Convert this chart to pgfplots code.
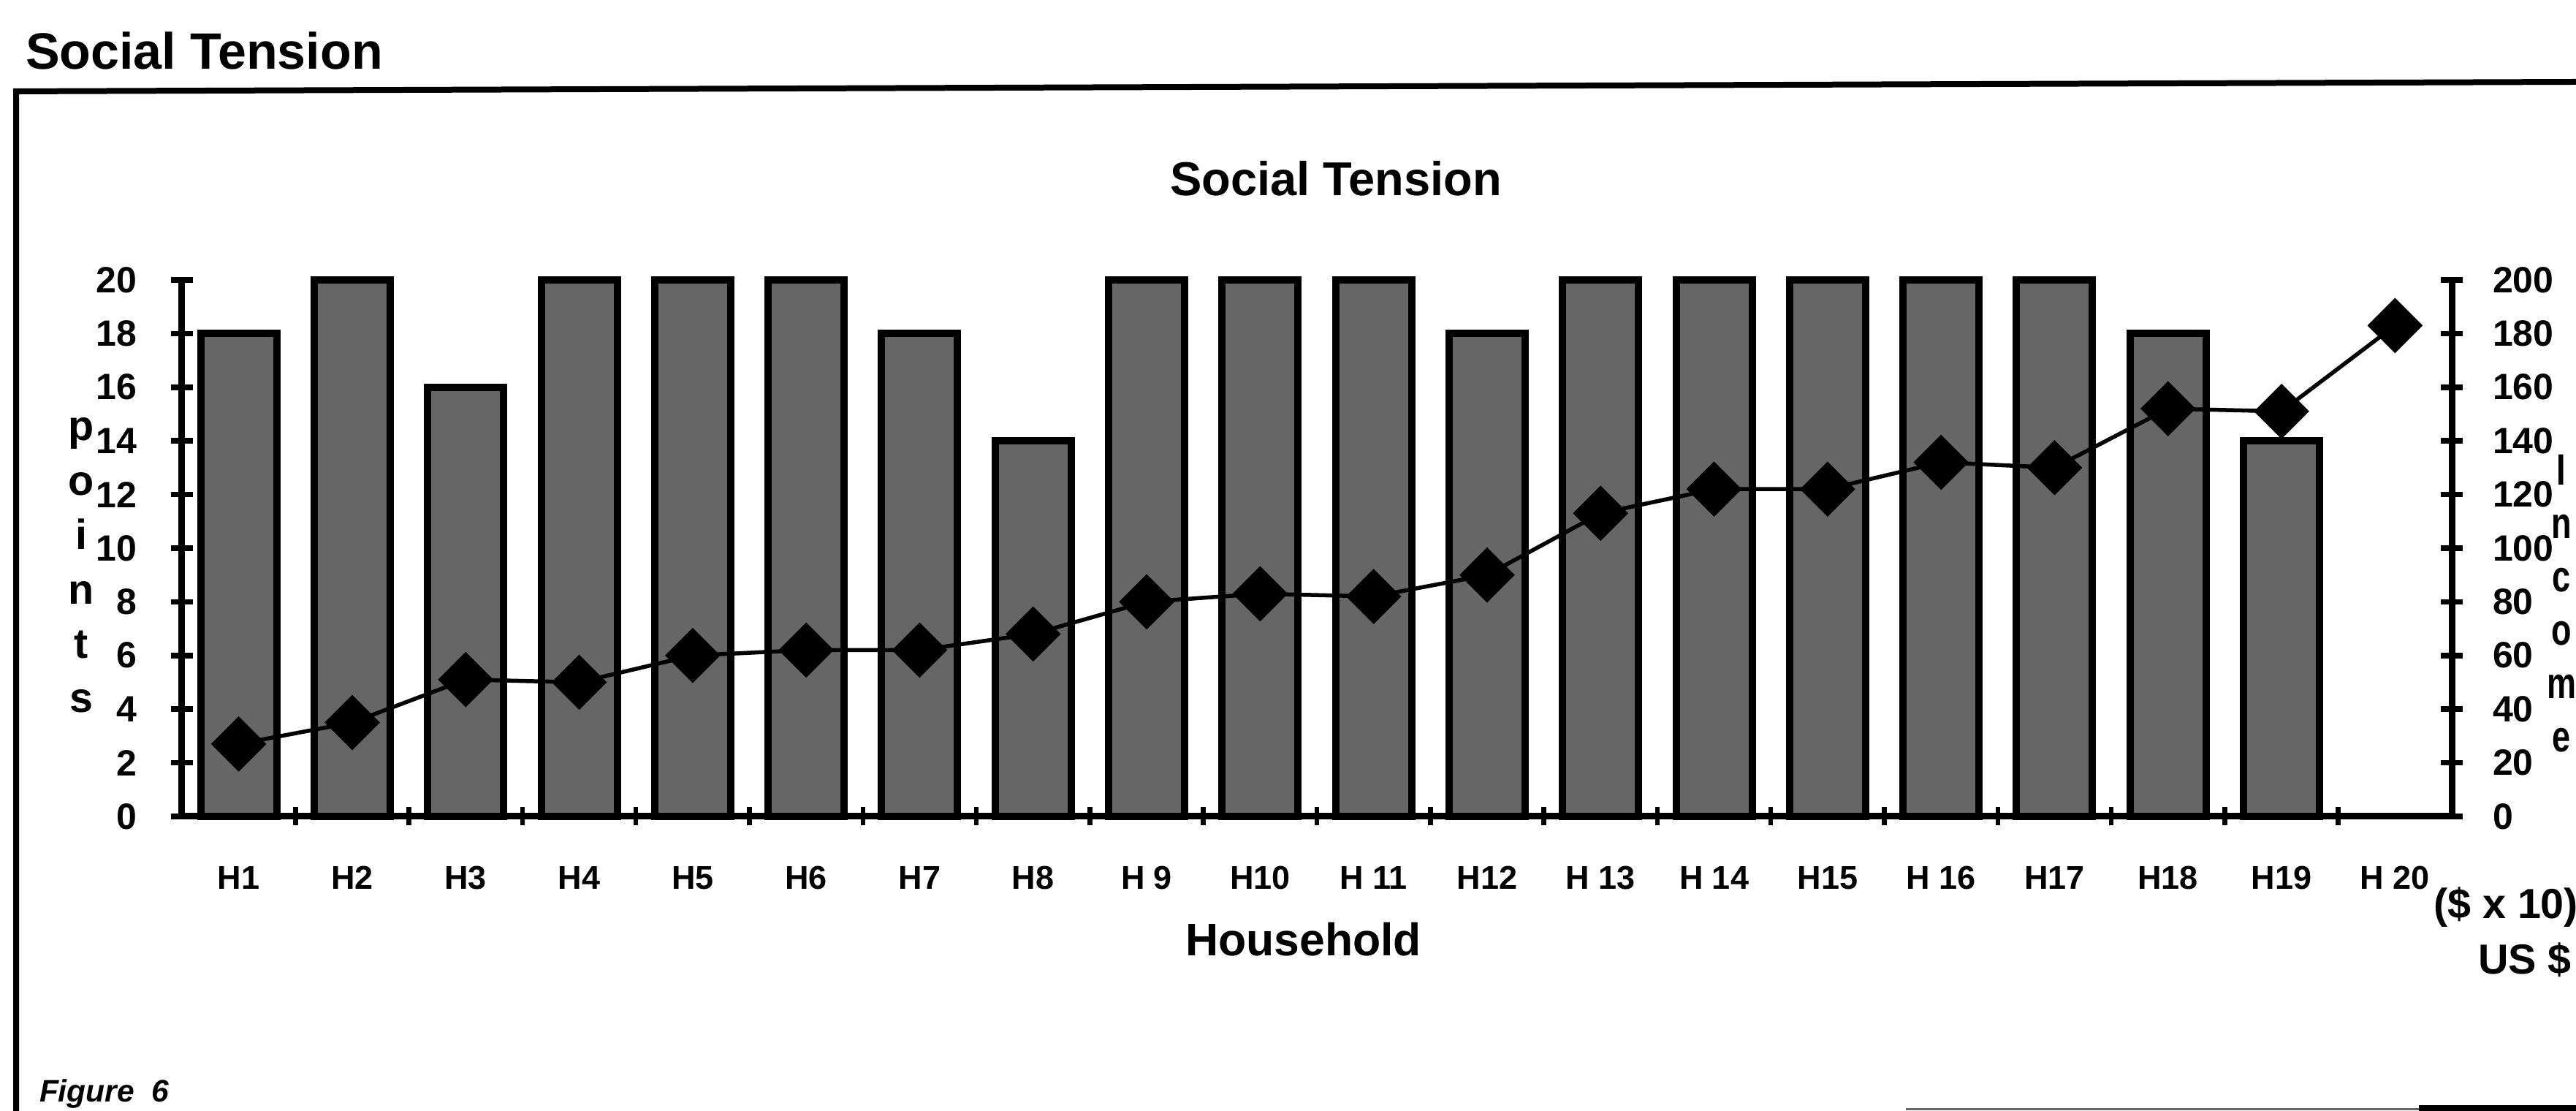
\documentclass[border=0pt]{standalone}
\usepackage{fontspec}
\setmainfont{Liberation Sans}
\usepackage{pgfplots}
\pgfplotsset{compat=1.18}
\newcommand{\fs}[1]{\fontsize{#1}{#1}\selectfont}

\begin{document}
\begin{tikzpicture}[x=1pt,y=1pt]
\path[use as bounding box, clip] (0,0) rectangle (705,304);
% frame
\draw[line width=1.6pt] (4.4,-2) -- (4.4,279) -- (706,281.6);
\draw[line width=0.6pt, black!60] (521.6,0.5) -- (662,0.5);
\draw[line width=1.6pt] (662,0.8) -- (706,0.8);
% texts
\node[anchor=base west, font=\bfseries\fs{14}, inner sep=0] at (6.8,285) {Social Tension};
\node[anchor=base, font=\bfseries\fs{13}, inner sep=0] at (365.6,250.4) {Social Tension};
\node[anchor=base west, font=\bfseries\fs{12.5}, inner sep=0] at (324.2,42.4) {Household};
\node[anchor=base west, font=\bfseries\fs{11.5}, inner sep=0] at (665.8,52.6) {(\$ x 10)};
\node[anchor=base west, font=\bfseries\fs{11.5}, inner sep=0] at (678,37.4) {US \$};
\node[anchor=base west, font=\bfseries\itshape\fs{8.5}, inner sep=0] at (10.6,2.4) {Figure\ \ 6};
\foreach \l [count=\i from 0] in {p,o,i,n,t,s}
  \node[anchor=base, font=\bfseries\fs{11.5}, inner sep=0] at (22.2,183.4-14.88*\i) {\l};
\foreach \l [count=\i from 0] in {I,n,c,o,m,e}
  \node[anchor=base, font=\bfseries\fs{12}, inner sep=0, xscale=0.75, transform shape] at (701,171.2-14.6*\i) {\l};

\begin{axis}[
  at={(49.8pt,80.6pt)}, anchor=south west,
  scale only axis, width=621.2pt, height=146.8pt,
  xmin=0.5, xmax=20.5, ymin=0, ymax=20,
  axis x line*=bottom, axis y line*=left,
  axis line style={line width=1.8pt},
  xtick={1,...,20},
  xticklabels={H1,H2,H3,H4,H5,H6,H7,H8,H 9,H10,H 11,H12,H 13,H 14,H15,H 16,H17,H18,H19,H 20},
  major tick length=6pt,
  tick align=center,
  major tick style={line width=1.5pt, black},
  major x tick style=transparent,
  minor xtick={1.5,2.5,...,19.5},
  minor tick length=5pt,
  minor tick style={line width=1.3pt, black},
  ytick={0,2,...,20},
  /pgf/number format/assume math mode=true,
  yticklabel style={font=\bfseries\fs{10}, anchor=east, inner sep=0pt, xshift=-9.2pt},
  xticklabel style={font=\bfseries\fs{9}, anchor=base, inner sep=0pt, yshift=-17pt},
  clip=false,
]
\addplot[ybar, bar width=20.8pt, fill=black!60, draw=black, line width=2pt] coordinates {
(1,18) (2,20) (3,16) (4,20) (5,20) (6,20) (7,18) (8,14) (9,20) (10,20)
(11,20) (12,18) (13,20) (14,20) (15,20) (16,20) (17,20) (18,18) (19,14)
};
\end{axis}

\begin{axis}[
  at={(49.8pt,80.6pt)}, anchor=south west,
  scale only axis, width=621.2pt, height=146.8pt,
  xmin=0.5, xmax=20.5, ymin=0, ymax=200,
  axis y line*=right, axis x line=none,
  axis line style={line width=1.8pt},
  ytick={0,20,...,200},
  major tick length=6pt, tick align=center,
  major tick style={line width=1.5pt, black},
  /pgf/number format/assume math mode=true,
  yticklabel style={font=\bfseries\fs{10}, anchor=west, inner sep=0pt, xshift=8pt},
  clip=false,
]
\addplot[black, line width=1.1pt, mark=square*, mark size=4.8pt, mark options={rotate=45, solid, fill=black}] coordinates {
(1,27) (2,35) (3,51) (4,50) (5,60) (6,62) (7,62) (8,68) (9,80) (10,83)
(11,82) (12,90) (13,113) (14,122) (15,122) (16,132) (17,130) (18,152) (19,151) (20,183)
};
\end{axis}
\end{tikzpicture}
\end{document}
